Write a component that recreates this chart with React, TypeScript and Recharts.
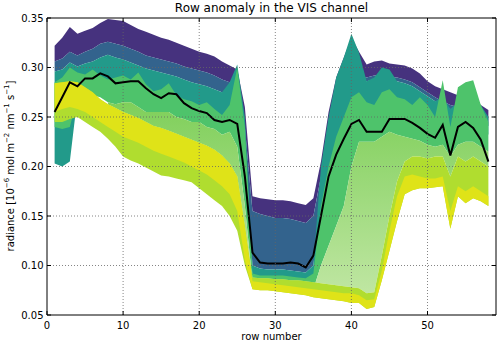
import React from 'react';
import { ComposedChart, Area, Line, XAxis, YAxis, ReferenceLine } from 'recharts';

// row numbers (x categories)
const rows = [1,2,3,4,5,6,7,8,9,10,11,12,13,14,15,16,17,18,19,20,21,22,23,24,25,26,27,28,29,30,31,32,33,34,35,36,37,38,39,40,41,42,43,44,45,46,47,48,49,50,51,52,53,54,55,56,57,58];

// envelope of the dark purple (earliest) curves
const envelopeTop = [0.322,0.330,0.341,0.334,0.337,0.340,0.345,0.349,0.348,0.347,0.343,0.339,0.336,0.333,0.330,0.328,0.325,0.322,0.319,0.316,0.314,0.311,0.306,0.302,0.298,0.260,0.170,0.168,0.167,0.166,0.166,0.165,0.163,0.161,0.168,0.205,0.255,0.290,0.310,0.330,0.316,0.303,0.306,0.307,0.304,0.303,0.302,0.299,0.294,0.286,0.281,0.278,0.275,0.272,0.270,0.268,0.262,0.257];
const purpleLow = [0.306,0.309,0.316,0.312,0.316,0.319,0.324,0.326,0.324,0.322,0.319,0.316,0.312,0.310,0.308,0.306,0.304,0.301,0.299,0.297,0.295,0.292,0.288,0.285,0.282,0.240,0.155,0.152,0.150,0.148,0.148,0.147,0.145,0.143,0.150,0.190,0.240,0.275,0.290,0.300,0.292,0.290,0.292,0.292,0.290,0.290,0.288,0.285,0.280,0.275,0.270,0.266,0.262,0.260,0.258,0.255,0.250,0.245];
const blueLow = [0.296,0.298,0.305,0.301,0.304,0.306,0.310,0.313,0.310,0.308,0.305,0.302,0.299,0.297,0.295,0.293,0.291,0.288,0.285,0.283,0.281,0.278,0.275,0.272,0.268,0.220,0.100,0.097,0.096,0.096,0.096,0.095,0.094,0.093,0.100,0.170,0.220,0.250,0.265,0.270,0.288,0.286,0.288,0.288,0.286,0.286,0.284,0.281,0.276,0.271,0.266,0.262,0.258,0.256,0.254,0.251,0.246,0.241];
const tealTop = [0.296,0.298,0.305,0.301,0.304,0.306,0.310,0.313,0.310,0.308,0.305,0.302,0.299,0.297,0.295,0.293,0.291,0.288,0.285,0.283,0.281,0.278,0.275,0.285,0.303,0.250,0.100,0.097,0.096,0.096,0.096,0.095,0.094,0.093,0.100,0.200,0.250,0.290,0.310,0.334,0.315,0.286,0.290,0.300,0.298,0.286,0.284,0.281,0.276,0.271,0.266,0.270,0.258,0.265,0.270,0.270,0.262,0.250];
const tealLow = [0.203,0.200,0.205,0.270,0.278,0.280,0.285,0.285,0.280,0.282,0.280,0.278,0.275,0.272,0.270,0.268,0.265,0.262,0.258,0.255,0.252,0.248,0.245,0.240,0.230,0.200,0.088,0.087,0.087,0.087,0.087,0.086,0.086,0.085,0.088,0.110,0.140,0.180,0.220,0.250,0.255,0.258,0.260,0.262,0.262,0.260,0.258,0.254,0.250,0.245,0.242,0.245,0.235,0.245,0.248,0.248,0.240,0.232];
const greenTop = [0.285,0.290,0.300,0.295,0.293,0.298,0.292,0.288,0.290,0.292,0.288,0.295,0.283,0.276,0.278,0.284,0.272,0.268,0.266,0.262,0.265,0.258,0.252,0.262,0.300,0.240,0.092,0.090,0.090,0.090,0.090,0.089,0.088,0.087,0.092,0.160,0.200,0.230,0.250,0.270,0.275,0.265,0.262,0.275,0.278,0.270,0.268,0.262,0.270,0.262,0.250,0.287,0.240,0.280,0.285,0.287,0.262,0.245];
const greenLow = [0.240,0.238,0.240,0.270,0.272,0.272,0.270,0.265,0.263,0.265,0.265,0.260,0.255,0.255,0.255,0.255,0.250,0.248,0.245,0.245,0.240,0.238,0.232,0.235,0.220,0.160,0.083,0.082,0.081,0.080,0.079,0.078,0.077,0.076,0.076,0.100,0.120,0.140,0.160,0.200,0.225,0.225,0.225,0.230,0.235,0.232,0.230,0.228,0.226,0.222,0.220,0.222,0.210,0.222,0.225,0.225,0.220,0.215];
const limeTop = [0.284,0.285,0.286,0.285,0.280,0.275,0.268,0.263,0.259,0.255,0.252,0.249,0.245,0.241,0.239,0.236,0.233,0.230,0.227,0.224,0.221,0.217,0.211,0.203,0.190,0.140,0.088,0.087,0.087,0.086,0.086,0.085,0.085,0.084,0.083,0.082,0.081,0.080,0.079,0.078,0.077,0.072,0.073,0.110,0.150,0.185,0.205,0.210,0.210,0.208,0.210,0.210,0.190,0.210,0.205,0.210,0.205,0.200];
const limeLow = [0.245,0.245,0.248,0.250,0.245,0.240,0.235,0.228,0.220,0.210,0.206,0.203,0.199,0.195,0.191,0.190,0.188,0.186,0.184,0.178,0.172,0.166,0.160,0.150,0.135,0.100,0.076,0.075,0.075,0.074,0.073,0.072,0.071,0.070,0.068,0.067,0.066,0.065,0.064,0.062,0.062,0.056,0.058,0.085,0.115,0.145,0.172,0.176,0.178,0.178,0.179,0.180,0.137,0.170,0.163,0.168,0.165,0.160];
const yellowTop = [0.284,0.285,0.286,0.285,0.280,0.275,0.268,0.263,0.259,0.255,0.252,0.249,0.245,0.241,0.239,0.236,0.233,0.230,0.227,0.224,0.221,0.217,0.211,0.203,0.190,0.140,0.084,0.083,0.082,0.081,0.080,0.079,0.078,0.077,0.076,0.075,0.074,0.073,0.072,0.072,0.070,0.065,0.066,0.095,0.135,0.170,0.190,0.192,0.190,0.188,0.188,0.190,0.155,0.180,0.175,0.180,0.175,0.170];
const yellowLow = [0.255,0.258,0.260,0.258,0.255,0.250,0.245,0.240,0.235,0.230,0.227,0.224,0.220,0.216,0.213,0.210,0.207,0.204,0.200,0.196,0.192,0.186,0.180,0.172,0.155,0.105,0.076,0.075,0.075,0.074,0.073,0.072,0.071,0.070,0.068,0.067,0.066,0.065,0.064,0.062,0.062,0.056,0.058,0.085,0.115,0.145,0.172,0.176,0.178,0.178,0.179,0.180,0.137,0.170,0.163,0.168,0.165,0.160];
// highlighted black curve
const meanLine = [0.255,0.270,0.285,0.281,0.289,0.289,0.294,0.291,0.284,0.285,0.286,0.286,0.279,0.273,0.269,0.274,0.273,0.264,0.259,0.256,0.254,0.247,0.245,0.247,0.243,0.190,0.113,0.103,0.102,0.102,0.102,0.103,0.102,0.098,0.110,0.150,0.190,0.212,0.228,0.243,0.247,0.235,0.235,0.235,0.248,0.248,0.248,0.244,0.239,0.233,0.229,0.242,0.211,0.240,0.245,0.239,0.227,0.205];

const xTicks = [0, 10, 20, 30, 40, 50];
const yTicks = [0.05, 0.10, 0.15, 0.20, 0.25, 0.30, 0.35];
const X_DOMAIN: [number, number] = [0, 59];
const Y_DOMAIN: [number, number] = [0.05, 0.35];
const PALE_START = 8;

// plot box size (style constants for mirrored inward ticks)
const PLOT_H = 297;
const PLOT_W = 449;

const data = rows.map((row, i) => ({
  row,
  purple: [purpleLow[i], envelopeTop[i]],
  blue: [blueLow[i], purpleLow[i]],
  teal: [tealLow[i], tealTop[i]],
  green: [greenLow[i], greenTop[i]],
  pale: row < PALE_START ? null : [limeTop[i], greenLow[i]],
  lime: [limeLow[i], limeTop[i]],
  yellow: [yellowLow[i], yellowTop[i]],
  mean: meanLine[i],
}));

const FONT = '"DejaVu Sans", sans-serif';

const bands = [
  { key: 'purple', color: '#46327e' },
  { key: 'blue', color: '#33638d' },
  { key: 'teal', color: '#229a8a' },
  { key: 'green', color: '#4ec36b' },
  { key: 'pale', color: 'url(#paleGrad)' },
  { key: 'lime', color: '#b0dd2f' },
  { key: 'yellow', color: '#dfe318' },
];

const XTick = (props: any) => {
  const { x, y, payload } = props;
  return (
    <g>
      <line x1={x} x2={x} y1={y} y2={y - 4} stroke="#000" />
      <line x1={x} x2={x} y1={y - PLOT_H} y2={y - PLOT_H + 4} stroke="#000" />
      <text x={x} y={y + 14} textAnchor="middle" fontSize={10} fontFamily={FONT} fill="#000">
        {payload.value}
      </text>
    </g>
  );
};

const YTick = (props: any) => {
  const { x, y, payload } = props;
  return (
    <g>
      <line x1={x} x2={x + 4} y1={y} y2={y} stroke="#000" />
      <line x1={x + PLOT_W} x2={x + PLOT_W - 4} y1={y} y2={y} stroke="#000" />
      <text x={x - 3.5} y={y} dy="0.36em" textAnchor="end" fontSize={10} fontFamily={FONT} fill="#000">
        {Number(payload.value).toFixed(2)}
      </text>
    </g>
  );
};

const supStyle: React.CSSProperties = { fontSize: 7, verticalAlign: 'top', lineHeight: '7px', position: 'relative', top: -1 };

export default function App() {
  return (
    <div style={{ position: 'absolute', left: 0, top: 0, width: 500, height: 346, background: '#fff' }}>
      <div style={{ position: 'absolute', left: 47, width: 449, top: 1, textAlign: 'center', fontFamily: FONT, fontSize: 12, color: '#000' }}>
        Row anomaly in the VIS channel
      </div>
      <div style={{ position: 'absolute', left: 47, width: 449, top: 331, textAlign: 'center', fontFamily: FONT, fontSize: 10, color: '#000' }}>
        row number
      </div>
      <div style={{ position: 'absolute', left: 11, top: 166, width: 0, height: 0 }}>
        <div style={{ position: 'absolute', transform: 'translate(-50%, -50%) rotate(-90deg)', whiteSpace: 'nowrap', fontFamily: FONT, fontSize: 10, color: '#000', lineHeight: '12px' }}>
          radiance [10<span style={supStyle}>−6</span> mol m<span style={supStyle}>−2</span> nm<span style={supStyle}>−1</span> s<span style={supStyle}>−1</span>]
        </div>
      </div>
      <ComposedChart width={500} height={346} data={data} margin={{ top: 18, right: 4, bottom: 0, left: 0 }}>
        <defs>
          <linearGradient id="paleGrad" x1="0" y1="0" x2="0" y2="1">
            <stop offset="0%" stopColor="#7fcf5a" />
            <stop offset="100%" stopColor="#bfe6a2" />
          </linearGradient>
        </defs>
        <XAxis dataKey="row" type="number" domain={X_DOMAIN} ticks={xTicks} height={31} tickSize={0} tickMargin={0}
          tickLine={false} axisLine={{ stroke: '#000' }} tick={<XTick />} allowDataOverflow />
        <YAxis type="number" domain={Y_DOMAIN} ticks={yTicks} width={47} tickSize={0} tickMargin={0}
          tickLine={false} axisLine={{ stroke: '#000' }} tick={<YTick />} allowDataOverflow />
        {bands.map((b) => (
          <Area key={b.key} dataKey={b.key} type="linear" fill={b.color} fillOpacity={1} stroke="none"
            isAnimationActive={false} dot={false} activeDot={false} />
        ))}
        <Line dataKey="mean" type="linear" stroke="#000" strokeWidth={2} dot={false} activeDot={false} isAnimationActive={false} />
        {xTicks.slice(1).map((t) => (
          <ReferenceLine key={'gx' + t} x={t} stroke="#666" strokeWidth={0.8} strokeDasharray="1 2" />
        ))}
        {yTicks.slice(1, -1).map((t) => (
          <ReferenceLine key={'gy' + t} y={t} stroke="#666" strokeWidth={0.8} strokeDasharray="1 2" />
        ))}
        <ReferenceLine y={Y_DOMAIN[1]} stroke="#000" />
        <ReferenceLine x={X_DOMAIN[1]} stroke="#000" />
      </ComposedChart>
    </div>
  );
}
